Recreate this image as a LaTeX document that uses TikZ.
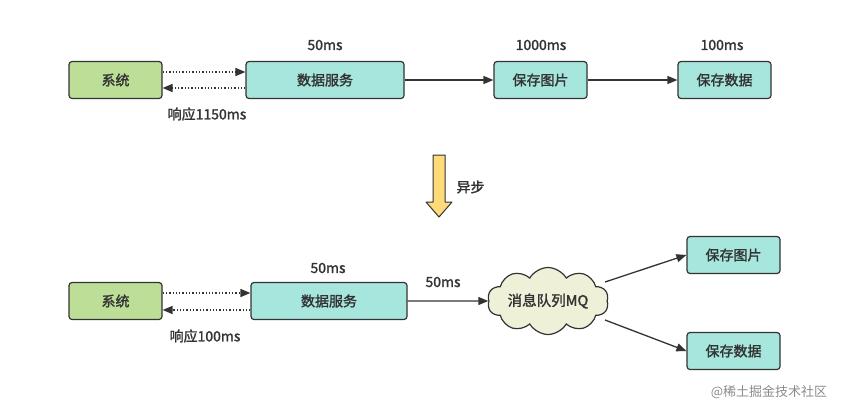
\documentclass[tikz,border=0pt]{standalone}
\usepackage{fontspec}
\setmainfont{Noto Sans CJK SC}[AutoFakeBold=1.6]
\usetikzlibrary{arrows.meta}
\usetikzlibrary{shapes.symbols}
\definecolor{sysgreen}{RGB}{188,222,150}
\definecolor{svcteal}{RGB}{166,230,220}
\definecolor{mqcloud}{RGB}{238,240,216}
\definecolor{asyncyellow}{RGB}{255,218,120}
\definecolor{edgegray}{RGB}{51,51,51}
\tikzset{
  box/.style={draw=edgegray, line width=1.2pt, rounded corners=3pt, minimum height=37pt, text=edgegray, font=\fontsize{14}{16}\selectfont\bfseries},
  sysbox/.style={box, fill=sysgreen, minimum width=93pt},
  svcbox/.style={box, fill=svcteal, minimum width=93pt},
  flow/.style={draw=edgegray, line width=1.3pt, -{Triangle[length=10pt,width=8pt]}},
  reply/.style={flow, dotted, line width=1.6pt},
  timelbl/.style={font=\fontsize{14}{16}\selectfont\bfseries, text=edgegray}
}
\begin{document}
\begin{tikzpicture}[x=1pt, y=-1pt]
  \useasboundingbox[fill=white] (0,0) rectangle (864,413);

  % synchronous
  \node [sysbox] (sysA) at (115.5, 80) {系统};
  \node [svcbox, minimum width=158pt] (dataA) at (325, 80) {数据服务};
  \node [svcbox] (picA) at (540.5, 80) {保存图片};
  \node [svcbox] (saveA) at (724.5, 80) {保存数据};
  \draw [reply] (sysA.east |- 0,72) -- (dataA.west |- 0,72);
  \draw [reply] (dataA.west |- 0,88) -- (sysA.east |- 0,88);
  \draw [flow] (dataA) -- (picA);
  \draw [flow] (picA) -- (saveA);
  \node [timelbl] at (325, 45) {50ms};
  \node [timelbl] at (541, 45) {1000ms};
  \node [timelbl] at (722, 45) {100ms};
  \node [timelbl] at (207, 114) {响应1150ms};

  % async arrow
  \draw [draw=edgegray, line width=1pt, fill=asyncyellow, line join=round]
    (433,155) -- (445,155) -- (445,202) -- (452,202) -- (439,217) -- (426,202) -- (433,202) -- cycle;
  \node [timelbl, anchor=west] at (453, 187) {异步};

  % with message queue
  \node [sysbox] (sysB) at (115.5, 301) {系统};
  \node [svcbox, minimum width=156pt] (dataB) at (329, 301) {数据服务};
  \node [cloud, cloud puffs=10, cloud puff arc=120, cloud ignores aspect, draw=edgegray, line width=1.2pt, fill=mqcloud,
         minimum width=121pt, minimum height=67pt, inner sep=0pt, text=edgegray,
         font=\fontsize{14.5}{16}\selectfont\bfseries] (mq) at (548, 301) {消息队列MQ};
  \node [svcbox] (picB) at (733.5, 255) {保存图片};
  \node [svcbox] (saveB) at (733.5, 351) {保存数据};
  \draw [reply] (sysB.east |- 0,293) -- (dataB.west |- 0,293);
  \draw [reply] (dataB.west |- 0,310) -- (sysB.east |- 0,310);
  \draw [flow] (dataB) -- (mq);
  \draw [flow] (605,282) -- (picB.west);
  \draw [flow] (605,320) -- (saveB.west);
  \node [timelbl] at (328, 268) {50ms};
  \node [timelbl] at (443, 282) {50ms};
  \node [timelbl] at (205, 336) {响应100ms};

  \node [text=black!45, font=\fontsize{13}{15}\selectfont] (mark) at (769, 392) {@稀土掘金技术社区};
\end{tikzpicture}
\end{document}
